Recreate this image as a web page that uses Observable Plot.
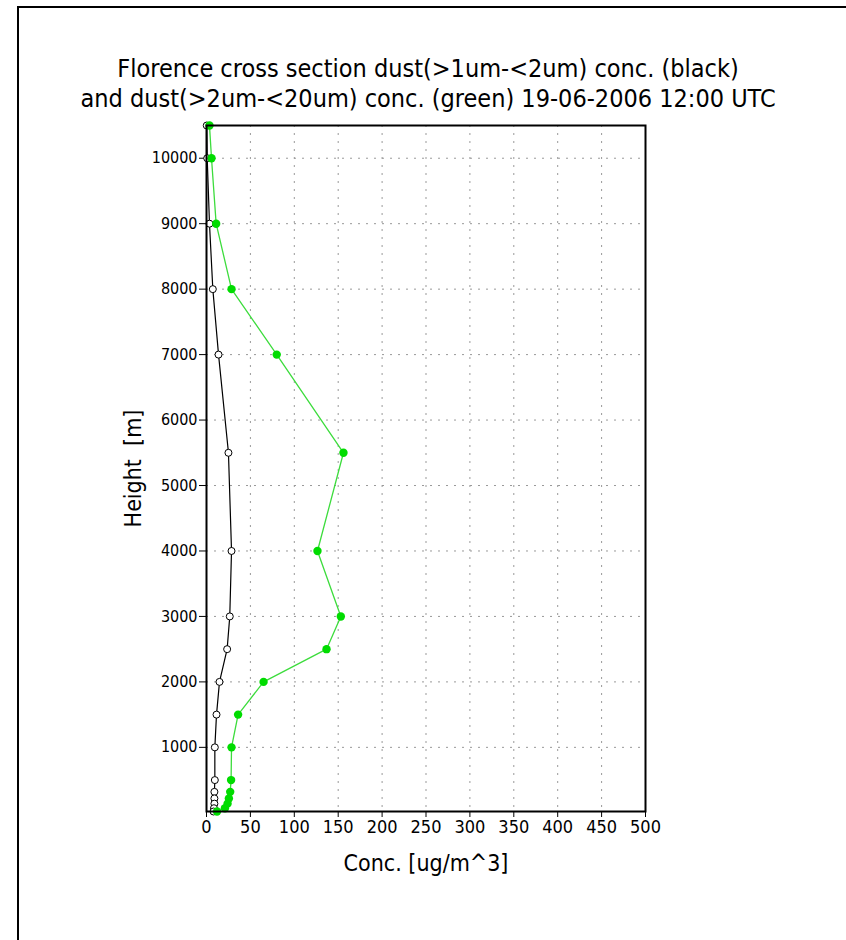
<!DOCTYPE html>
<html><head><meta charset="utf-8">
<script src="https://cdn.jsdelivr.net/npm/d3@7"></script>
<script src="https://cdn.jsdelivr.net/npm/@observablehq/plot@0.6"></script>
<style>
body{margin:0;background:#fff;}
#wrap{position:relative;width:846px;height:940px;overflow:hidden;background:#fff;}
#border{position:absolute;left:17px;top:6px;width:900px;height:1000px;border-left:2px solid #000;border-top:2px solid #000;}
#chart{position:absolute;left:0;top:0;}
</style></head><body>
<div id="wrap"><div id="border"></div><div id="chart"></div></div>
<script>
const heights   = [10500, 10000, 9000, 8000, 7000, 5500, 4000, 3000, 2500, 2000, 1500, 1000, 500, 320, 220, 140, 70, 20];
const blackConc = [0.3, 0.8, 3.4, 7.2, 13.7, 25, 28.5, 26.5, 23.5, 14.8, 11.4, 9.5, 9.5, 9, 9, 9, 8.5, 8];
const greenConc = [3.4, 5.7, 11, 28.5, 80, 156, 126.4, 153, 136.7, 65, 36, 28.5, 28, 27, 25.5, 24, 21, 12];
const xTicks = [0, 50, 100, 150, 200, 250, 300, 350, 400, 450, 500];
const yTicks = [1000, 2000, 3000, 4000, 5000, 6000, 7000, 8000, 9000, 10000];
const titleLines = [
  "Florence cross section dust(>1um-<2um) conc. (black)",
  "and dust(>2um-<20um) conc. (green) 19-06-2006 12:00 UTC"
];
const xLabel = "Conc. [ug/m^3]";
const yLabel = "Height  [m]";

const black = heights.map((h, i) => ({h, c: blackConc[i]}));
const green = heights.map((h, i) => ({h, c: greenConc[i]}));

const font = '"DejaVu Sans Condensed", "Liberation Sans Narrow", "DejaVu Sans", sans-serif';

const chart = Plot.plot({
  width: 846,
  height: 940,
  marginLeft: 206,
  marginRight: 201,
  marginTop: 125,
  marginBottom: 129,
  style: {fontFamily: font, background: "transparent", color: "#000"},
  x: {domain: [0, 500]},
  y: {domain: [20, 10500]},
  marks: [
    Plot.gridX(xTicks.filter(d => d > 0 && d < 500), {stroke: "#999", strokeOpacity: 1, strokeDasharray: "2,6"}),
    Plot.gridY(yTicks, {stroke: "#999", strokeOpacity: 1, strokeDasharray: "2,6"}),
    Plot.axisY({ticks: yTicks, tickSize: 7, tickPadding: 2, fontSize: 16, tickFormat: d => String(d), label: null}),
    Plot.axisX({ticks: xTicks, tickSize: 6, tickPadding: 3, fontSize: 18, tickFormat: d => String(d), label: null}),
    Plot.line(black, {x: "c", y: "h", stroke: "#000", strokeWidth: 1.2}),
    Plot.dot(black, {x: "c", y: "h", r: 3.5, fill: "#fff", stroke: "#000", strokeWidth: 1}),
    Plot.line(green, {x: "c", y: "h", stroke: "#3cdc3c", strokeWidth: 1.3}),
    Plot.dot(green, {x: "c", y: "h", r: 4.2, fill: "#00dc00", stroke: "none"}),
    Plot.frame({stroke: "#000", strokeWidth: 2}),
    Plot.text([titleLines[0]], {frameAnchor: "top", dx: 2, dy: -49, fontSize: 25, textAnchor: "middle", lineAnchor: "bottom", fill: "#000"}),
    Plot.text([titleLines[1]], {frameAnchor: "top", dx: 2, dy: -19, fontSize: 25, textAnchor: "middle", lineAnchor: "bottom", fill: "#000"}),
    Plot.text([xLabel], {frameAnchor: "bottom", dy: 59, fontSize: 23, textAnchor: "middle", lineAnchor: "bottom", fill: "#000"}),
    Plot.text([yLabel], {frameAnchor: "left", dx: -73, rotate: -90, fontSize: 23, textAnchor: "middle", lineAnchor: "middle", fill: "#000"})
  ]
});
document.getElementById("chart").appendChild(chart);
</script>
</body></html>
